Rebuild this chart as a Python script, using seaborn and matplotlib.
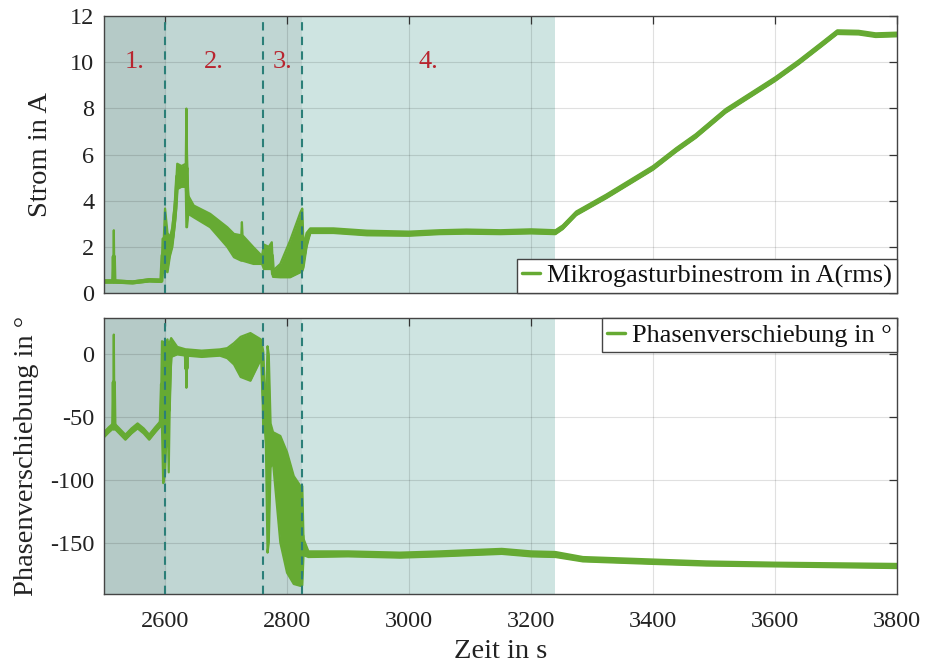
import numpy as np
import matplotlib
matplotlib.use("Agg")
import matplotlib.pyplot as plt
import seaborn as sns

strom_t = [2500, 2515, 2516, 2517, 2547, 2574, 2594, 2596, 2598, 2600, 2604, 2608,
           2612, 2617, 2620, 2627, 2634, 2635, 2636, 2638, 2647, 2674, 2702, 2713,
           2725, 2726, 2727, 2745, 2759, 2762, 2770, 2775, 2777, 2789, 2805, 2822,
           2825, 2827, 2832, 2838, 2876, 2931, 3000, 3050, 3094, 3150, 3200, 3240,
           3252, 3274, 3323, 3400, 3438, 3470, 3519, 3600, 3639, 3677, 3702, 3737,
           3765, 3800]
strom_lo = [0.45, 0.45, 0.45, 0.45, 0.42, 0.50, 0.48, 0.90, 0.90, 1.00, 0.90, 1.60,
            2.00, 3.20, 4.50, 4.60, 4.60, 2.85, 2.85, 3.43, 3.28, 2.85, 2.00, 1.55,
            1.40, 1.40, 1.40, 1.26, 1.26, 1.04, 1.04, 1.04, 0.70, 0.68, 0.68, 0.90,
            0.95, 1.11, 2.00, 2.60, 2.60, 2.50, 2.48, 2.55, 2.57, 2.55, 2.58, 2.55,
            2.77, 3.37, 4.10, 5.34, 6.12, 6.72, 7.81, 9.18, 9.92, 10.70, 11.22, 11.20,
            11.09, 11.12]
strom_hi = [0.55, 0.55, 2.72, 0.55, 0.50, 0.60, 0.58, 2.35, 2.40, 3.66, 2.60, 2.40,
            2.85, 4.15, 5.60, 5.50, 5.60, 7.99, 6.00, 4.22, 3.79, 3.43, 2.85, 2.56,
            2.50, 3.07, 2.50, 1.98, 1.60, 2.10, 2.00, 2.20, 0.97, 1.26, 2.27, 3.50,
            3.66, 2.00, 2.60, 2.80, 2.80, 2.70, 2.66, 2.72, 2.75, 2.72, 2.76, 2.72,
            2.93, 3.53, 4.26, 5.50, 6.28, 6.88, 7.97, 9.34, 10.08, 10.86, 11.38, 11.36,
            11.25, 11.28]

phase_t = [2500, 2508, 2515, 2516, 2517, 2525, 2535, 2545, 2555, 2565, 2574, 2584,
           2593, 2595, 2597, 2600, 2604, 2606, 2608, 2610, 2620, 2634, 2635, 2636,
           2660, 2690, 2702, 2713, 2724, 2740, 2757, 2759, 2761, 2765, 2768, 2770,
           2773, 2777, 2789, 2800, 2811, 2822, 2825, 2827, 2835, 2900, 2985, 3050,
           3152, 3200, 3240, 3285, 3400, 3487, 3600, 3800]
phase_lo = [-66, -62, -59, -60, -59, -63, -68, -63, -59, -63, -68, -62,
            -57, -58, -102.6, -95, -40, -94, -30, -2, 0, -1, -26.6, -1,
            -2, -1, -3, -8, -18, -21, -4, -8, -60, -61, -158, -150,
            -90, -86, -150, -174, -183, -184.5, -184, -160, -161.5, -161, -162, -161,
            -159, -161, -161.5, -165, -167, -168.3, -169, -170.3]
phase_hi = [-62, -58, -55, 15.8, -55, -59, -64, -59, -55, -59, -64, -58,
            -53, 10.5, 10, 8, 12, 5, 10, 13, 6, 4, 4, 4,
            3, 4, 5, 9, 14, 17, 12, 8, 2, -54, 6.5, 0,
            -55, -62, -65, -78, -97, -105, -105, -147, -157, -157, -158, -157,
            -155, -157, -157.5, -161.5, -163.5, -165, -166, -167]

# phases of the test (boundaries in s) and their labels
phase_edges = [2500, 2600, 2760, 2825, 3240]
phase_names = ["1.", "2.", "3.", "4."]
phase_colors = ["#b5cac7", "#c0d6d3", "#c0d6d3", "#cee4e1"]

strom_label = "Mikrogasturbinestrom in A(rms)"
phase_label = "Phasenverschiebung in \u00b0"

green = "#66aa33"
dash_col = "#2b7f78"
red = "#b8252f"

sns.set_theme(style="white")
plt.rcParams["font.family"] = ["Liberation Serif", "DejaVu Serif"]
plt.rcParams["axes.unicode_minus"] = False

fig = plt.figure(figsize=(9.29, 6.67), dpi=100)
ax1 = fig.add_axes([0.112, 0.5607, 0.8536, 0.4153])
ax2 = fig.add_axes([0.112, 0.1094, 0.8536, 0.4138])


def draw_signal(ax, t, lo, hi, label):
    t = np.asarray(t, float)
    lo = np.asarray(lo, float)
    hi = np.asarray(hi, float)
    mid = (lo + hi) / 2
    ax.fill_between(t, lo, hi, color=green, lw=0, zorder=2)
    ax.plot(t, lo, color=green, lw=1.6, zorder=2)
    ax.plot(t, hi, color=green, lw=1.6, zorder=2)
    sns.lineplot(x=t, y=mid, ax=ax, color=green, lw=3, label=label,
                 estimator=None, sort=False, zorder=2)


for ax in (ax1, ax2):
    for i in range(len(phase_names)):
        ax.axvspan(phase_edges[i], phase_edges[i + 1], color=phase_colors[i],
                   lw=0, zorder=0.2)
    ax.set_axisbelow(True)
    ax.grid(True, color="black", alpha=0.12, lw=0.8)
    ax.set_xlim(2500, 3800)
    ax.set_xticks([2600, 2800, 3000, 3200, 3400, 3600, 3800])
    ax.tick_params(direction="in", length=5.5, width=0.9, top=True, right=True,
                   labelsize=17.5, colors="#333333", labelcolor="#222222")
    ax.tick_params(axis="x", pad=12)
    ax.tick_params(axis="y", pad=7)
    for s in ax.spines.values():
        s.set_color("#444444")
        s.set_linewidth(1.0)

draw_signal(ax1, strom_t, strom_lo, strom_hi, strom_label)
draw_signal(ax2, phase_t, phase_lo, phase_hi, phase_label)

for ax in (ax1, ax2):
    for x in phase_edges[1:4]:
        ax.axvline(x, color=dash_col, ls=(0, (4, 3)), lw=1.5, zorder=3)

for i, name in enumerate(phase_names):
    xc = (phase_edges[i] + phase_edges[i + 1]) / 2
    ax1.text(xc, 10, name, color=red, fontsize=19, ha="center", va="center")

ax1.set_ylim(0, 12)
ax1.set_yticks(range(0, 13, 2))
ax1.set_xticklabels([])
ax2.set_ylim(-191, 29)
ax2.set_yticks([-150, -100, -50, 0])

ax1.set_ylabel("Strom in A", fontsize=20.5, color="#222222")
ax1.yaxis.set_label_coords(-0.064, 0.5)
ax2.set_ylabel("Phasenverschiebung in \u00b0", fontsize=20.5, color="#222222")
ax2.yaxis.set_label_coords(-0.082, 0.5)
ax2.set_xlabel("Zeit in s", fontsize=20.5, color="#222222", labelpad=5)

leg_kw = dict(fontsize=19, frameon=True, fancybox=False, framealpha=1,
              edgecolor="#444444", borderaxespad=0, handlelength=0.7,
              handletextpad=0.25, borderpad=0.2)
l1 = ax1.legend(loc="lower right", **leg_kw)
l2 = ax2.legend(loc="upper right", **leg_kw)
for lg in (l1, l2):
    lg.get_frame().set_linewidth(1.0)
    for h in lg.get_lines():
        h.set_linewidth(2.5)
    for txt in lg.get_texts():
        txt.set_color("#111111")

fig.savefig("out.png", dpi=100)
